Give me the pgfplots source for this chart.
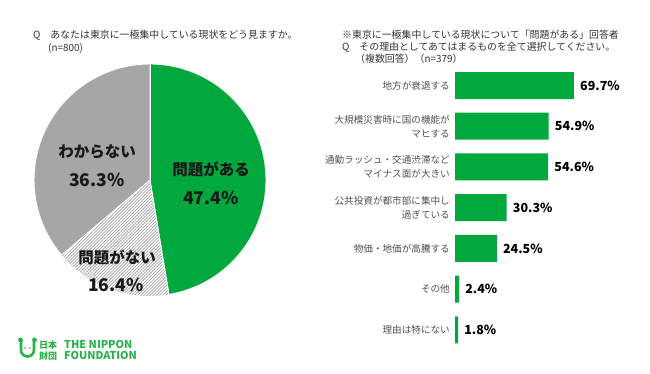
\documentclass[border=0pt]{standalone}
\usepackage{fontspec}
\setmainfont{Noto Sans CJK JP}
\usepackage{pgfplots}
\pgfplotsset{compat=1.18}
\usetikzlibrary{patterns.meta}
\definecolor{npgreen}{RGB}{0,168,62}
\definecolor{piegray}{RGB}{166,166,166}
\definecolor{hatchgray}{RGB}{170,170,170}
\definecolor{logogreen}{RGB}{40,178,72}
\definecolor{titletxt}{RGB}{50,50,50}
\definecolor{labgray}{RGB}{80,80,80}
\begin{document}
\begin{tikzpicture}
\path[use as bounding box] (0pt,0pt) rectangle (650pt,374pt);
% ---- pie data (percent) ----
\def\pA{47.4}\def\pB{16.4}\def\pC{36.3}
\pgfmathsetmacro\aA{90-3.6*\pA}
\pgfmathsetmacro\aB{\aA-3.6*\pB}
\begin{axis}[at={(150pt,194pt)}, anchor=origin, scale only axis,
  width=232pt, height=232pt, xmin=-1, xmax=1, ymin=-1, ymax=1,
  hide axis, clip=false]
\filldraw[fill=npgreen, draw=white, line width=0.9pt] (axis cs:0,0) -- (axis cs:0,1)
  arc[start angle=90, end angle=\aA, radius=116pt] -- cycle;
\fill[white] (axis cs:0,0) -- (axis cs:{cos(\aA)},{sin(\aA)})
  arc[start angle=\aA, end angle=\aB, radius=116pt] -- cycle;
\fill[pattern={Lines[angle=45, distance=2.2pt, line width=0.8pt]}, pattern color=hatchgray]
  (axis cs:0,0) -- (axis cs:{cos(\aA)},{sin(\aA)})
  arc[start angle=\aA, end angle=\aB, radius=116pt] -- cycle;
\filldraw[fill=piegray, draw=white, line width=0.9pt] (axis cs:0,0) -- (axis cs:{cos(\aB)},{sin(\aB)})
  arc[start angle=\aB, end angle=-270, radius=116pt] -- cycle;
\draw[white, line width=0.9pt] (axis cs:0,0) -- (axis cs:{cos(\aA)},{sin(\aA)});
\draw[white, line width=0.9pt] (axis cs:0,0) -- (axis cs:0,1);
\end{axis}
% pie labels
\begin{scope}[every node/.style={font=\bfseries\fontsize{15.5}{17}\selectfont, text=black!90, inner sep=0pt}]
\node at (211pt,204pt) {問題がある};
\node at (97pt,222pt) {わからない};
\node at (117pt,116pt) {問題がない};
\end{scope}
\begin{scope}[every node/.style={font=\bfseries\fontsize{17.5}{19}\selectfont, text=black!90, inner sep=0pt}]
\node at (211pt,176pt) {\pA\%};
\node at (97pt,194pt) {\pC\%};
\node at (116pt,89pt) {\pB\%};
\end{scope}
% titles
\begin{scope}[every node/.style={font=\fontsize{9.9}{12}\selectfont, text=titletxt, inner sep=0pt, anchor=west}]
\node at (33pt,339pt) {Q　あなたは東京に一極集中している現状をどう見ますか。};
\node at (48pt,326pt) {(n=800)};
\node at (342pt,339pt) {※東京に一極集中している現状について「問題がある」回答者};
\node at (342pt,327pt) {Q　その理由としてあてはまるものを全て選択してください。};
\node at (355pt,315pt) {（複数回答）（n=379）};
\end{scope}
% bar chart
\begin{axis}[at={(455pt,23.85pt)}, anchor=south west, scale only axis,
  width=170.7pt, height=285pt, xmin=0, xmax=100, ymin=-0.5, ymax=6.5,
  y dir=reverse, xbar, bar width=27pt,
  axis line style={draw=none}, xtick=\empty, ytick={0,1,2,3,4,5,6},
  major tick length=0pt,
  yticklabels={{地方が衰退する},{大規模災害時に国の機能が\\マヒする},{通勤ラッシュ・交通渋滞など\\マイナス面が大きい},{公共投資が都市部に集中し\\過ぎている},{物価・地価が高騰する},{その他},{理由は特にない}},
  yticklabel style={align=right, font=\fontsize{9.6}{14}\selectfont, text=labgray, inner sep=0pt, xshift=-5pt},
  /pgf/number format/assume math mode=true,
  point meta=x,
  nodes near coords={\pgfmathprintnumber[fixed,fixed zerofill,precision=1]{\pgfplotspointmeta}\%},
  nodes near coords align=horizontal,
  nodes near coords style={anchor=west, inner sep=0pt, xshift=6pt, font=\bfseries\fontsize{12.5}{14}\selectfont, text=black},
  clip=false]
\addplot[fill=npgreen, draw=none] coordinates {(69.7,0) (54.9,1) (54.6,2) (30.3,3) (24.5,4) (2.4,5) (1.8,6)};
\end{axis}
% logo
\begin{scope}
\draw[logogreen, line width=2.6pt] (21pt,33pt) -- (21pt,24pt) arc[start angle=180, end angle=360, radius=6.5pt] -- (34pt,33pt);
\fill[logogreen] (20.5pt,34pt) circle (2.4pt);
\fill[logogreen] (34.5pt,34pt) circle (2.4pt);
\fill[logogreen] (25pt,26pt) circle (0.8pt);
\fill[logogreen] (30pt,26pt) circle (0.8pt);
\node[anchor=west, inner sep=0pt, font=\bfseries\fontsize{9}{10}\selectfont, text=logogreen] at (39pt,29pt) {日本};
\node[anchor=west, inner sep=0pt, font=\bfseries\fontsize{9}{10}\selectfont, text=logogreen] at (39pt,18pt) {財団};
\node[anchor=west, inner sep=0pt, font=\bfseries\fontsize{10.8}{11}\selectfont, text=logogreen] at (64pt,30pt) {THE NIPPON};
\node[anchor=west, inner sep=0pt, font=\bfseries\fontsize{10.8}{11}\selectfont, text=logogreen] at (64pt,19pt) {FOUNDATION};
\end{scope}
\end{tikzpicture}
\end{document}
